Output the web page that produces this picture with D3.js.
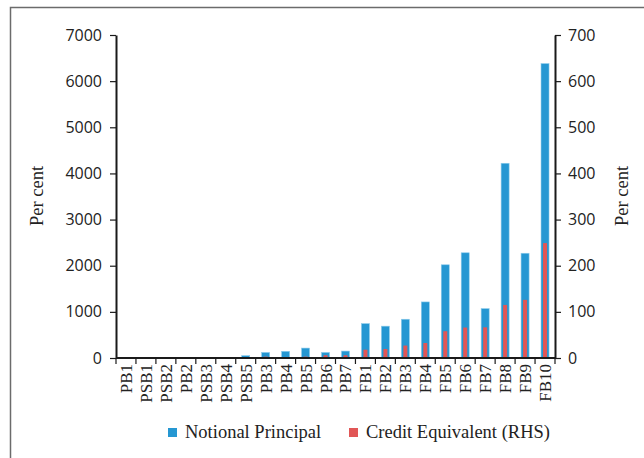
<!DOCTYPE html>
<html>
<head>
<meta charset="utf-8">
<script src="https://cdn.jsdelivr.net/npm/d3@7"></script>
<style>
  html, body { margin: 0; padding: 0; background: #fff; }
  svg { display: block; }
</style>
</head>
<body>
<svg id="chart" width="644" height="458"></svg>
<script>
// Banks, in display order
const categories = ["PB1","PSB1","PSB2","PB2","PSB3","PSB4","PSB5","PB3","PB4","PB5","PB6","PB7",
                    "FB1","FB2","FB3","FB4","FB5","FB6","FB7","FB8","FB9","FB10"];
// Notional principal, per cent (left axis)
const notionalPrincipal = [0,0,0,0,0,0,50,120,145,215,120,150,
                           745,690,840,1215,2020,2280,1070,4220,2270,6380];
// Credit equivalent, per cent (right axis)
const creditEquivalent = [0,0,0,0,0,0,1,3,2,3,6,6,
                          18,19.5,27,32.5,58,66,66.5,115,126,249];
const leftTicks = [0,1000,2000,3000,4000,5000,6000,7000];
const rightTicks = [0,100,200,300,400,500,600,700];
const seriesNames = ["Notional Principal", "Credit Equivalent (RHS)"];

const BLUE = "#2597d2", RED = "#e15656";
const serif = "'Liberation Serif', 'Times New Roman', serif";
const sans = "'Open Sans', 'Noto Sans', sans-serif";

const svg = d3.select("#chart");
const m = { left: 116, right: 555, top: 35, bottom: 358 };

// page frame (left and top edges)
svg.append("path")
  .attr("d", "M10.5,458 V7.5 H644")
  .attr("fill", "none").attr("stroke", "#6b6b6b").attr("stroke-width", 1.5);

const x = d3.scaleBand().domain(categories).range([m.left, m.right]).paddingInner(0).paddingOuter(0);
const yL = d3.scaleLinear().domain([0, 7000]).range([m.bottom, m.top]);
const yR = d3.scaleLinear().domain([0, 700]).range([m.bottom, m.top]);

const bw = 8, rw = 4;

// notional principal bars
svg.append("g").selectAll("rect")
  .data(categories.map((c, i) => ({ c, v: notionalPrincipal[i] })).filter(d => d.v > 0))
  .join("rect")
  .attr("x", d => x(d.c) + x.bandwidth() / 2 - bw / 2)
  .attr("width", bw)
  .attr("y", d => yL(d.v))
  .attr("height", d => yL(0) - yL(d.v))
  .attr("fill", BLUE)
  .attr("stroke", "#8ccbeb").attr("stroke-width", 0.6);

// credit equivalent bars
svg.append("g").selectAll("rect")
  .data(categories.map((c, i) => ({ c, v: creditEquivalent[i] })).filter(d => d.v > 0))
  .join("rect")
  .attr("x", d => x(d.c) + x.bandwidth() / 2 - rw / 2)
  .attr("width", rw)
  .attr("y", d => yR(d.v))
  .attr("height", d => yR(0) - yR(d.v))
  .attr("fill", RED);

// axes
const axisColor = "#1a1a1a";
function styleAxis(g) {
  g.selectAll(".domain").attr("stroke", axisColor).attr("stroke-width", 2);
  g.selectAll(".tick line").attr("stroke", axisColor).attr("stroke-width", 1.2);
  g.selectAll("text").attr("fill", "#222");
}

const gL = svg.append("g").attr("transform", `translate(${m.left},0)`)
  .call(d3.axisLeft(yL).tickValues(leftTicks).tickSize(6).tickSizeOuter(0).tickPadding(8).tickFormat(d3.format("d")));
styleAxis(gL);
gL.selectAll("text").attr("font-family", sans).attr("font-size", 16);

const gR = svg.append("g").attr("transform", `translate(${m.right},0)`)
  .call(d3.axisRight(yR).tickValues(rightTicks).tickSize(6).tickSizeOuter(0).tickPadding(7).tickFormat(d3.format("d")));
styleAxis(gR);
gR.selectAll("text").attr("font-family", sans).attr("font-size", 16);

// x axis: ticks at band boundaries, labels rotated
const gX = svg.append("g").attr("transform", `translate(0,${m.bottom})`);
gX.append("line").attr("x1", m.left).attr("x2", m.right).attr("y1", 0).attr("y2", 0)
  .attr("stroke", axisColor).attr("stroke-width", 2);
const bounds = d3.range(categories.length + 1).map(i => m.left + i * x.step());
gX.selectAll("line.tk").data(bounds).join("line").attr("class", "tk")
  .attr("x1", d => d).attr("x2", d => d).attr("y1", 0).attr("y2", 6)
  .attr("stroke", axisColor).attr("stroke-width", 1.2);
gX.selectAll("text").data(categories).join("text")
  .attr("transform", d => `translate(${x(d) + x.bandwidth() / 2 + 6},${6}) rotate(-90)`)
  .attr("text-anchor", "end")
  .attr("font-family", serif).attr("font-size", 17).attr("fill", "#222")
  .text(d => d);

// axis titles
svg.append("text").attr("transform", "translate(43,196) rotate(-90)")
  .attr("text-anchor", "middle").attr("font-family", serif).attr("font-size", 18.5).attr("fill", "#222")
  .text("Per cent");
svg.append("text").attr("transform", "translate(628,196) rotate(-90)")
  .attr("text-anchor", "middle").attr("font-family", serif).attr("font-size", 18.5).attr("fill", "#222")
  .text("Per cent");

// legend
const legend = svg.append("g");
const legendItems = [
  { name: seriesNames[0], color: BLUE, x: 168 },
  { name: seriesNames[1], color: RED, x: 349 }
];
legendItems.forEach(it => {
  legend.append("rect").attr("x", it.x).attr("y", 428).attr("width", 9).attr("height", 9).attr("fill", it.color);
  legend.append("text").attr("x", it.x + 17).attr("y", 438)
    .attr("font-family", serif).attr("font-size", 18.5).attr("fill", "#222").text(it.name);
});
</script>
</body>
</html>
